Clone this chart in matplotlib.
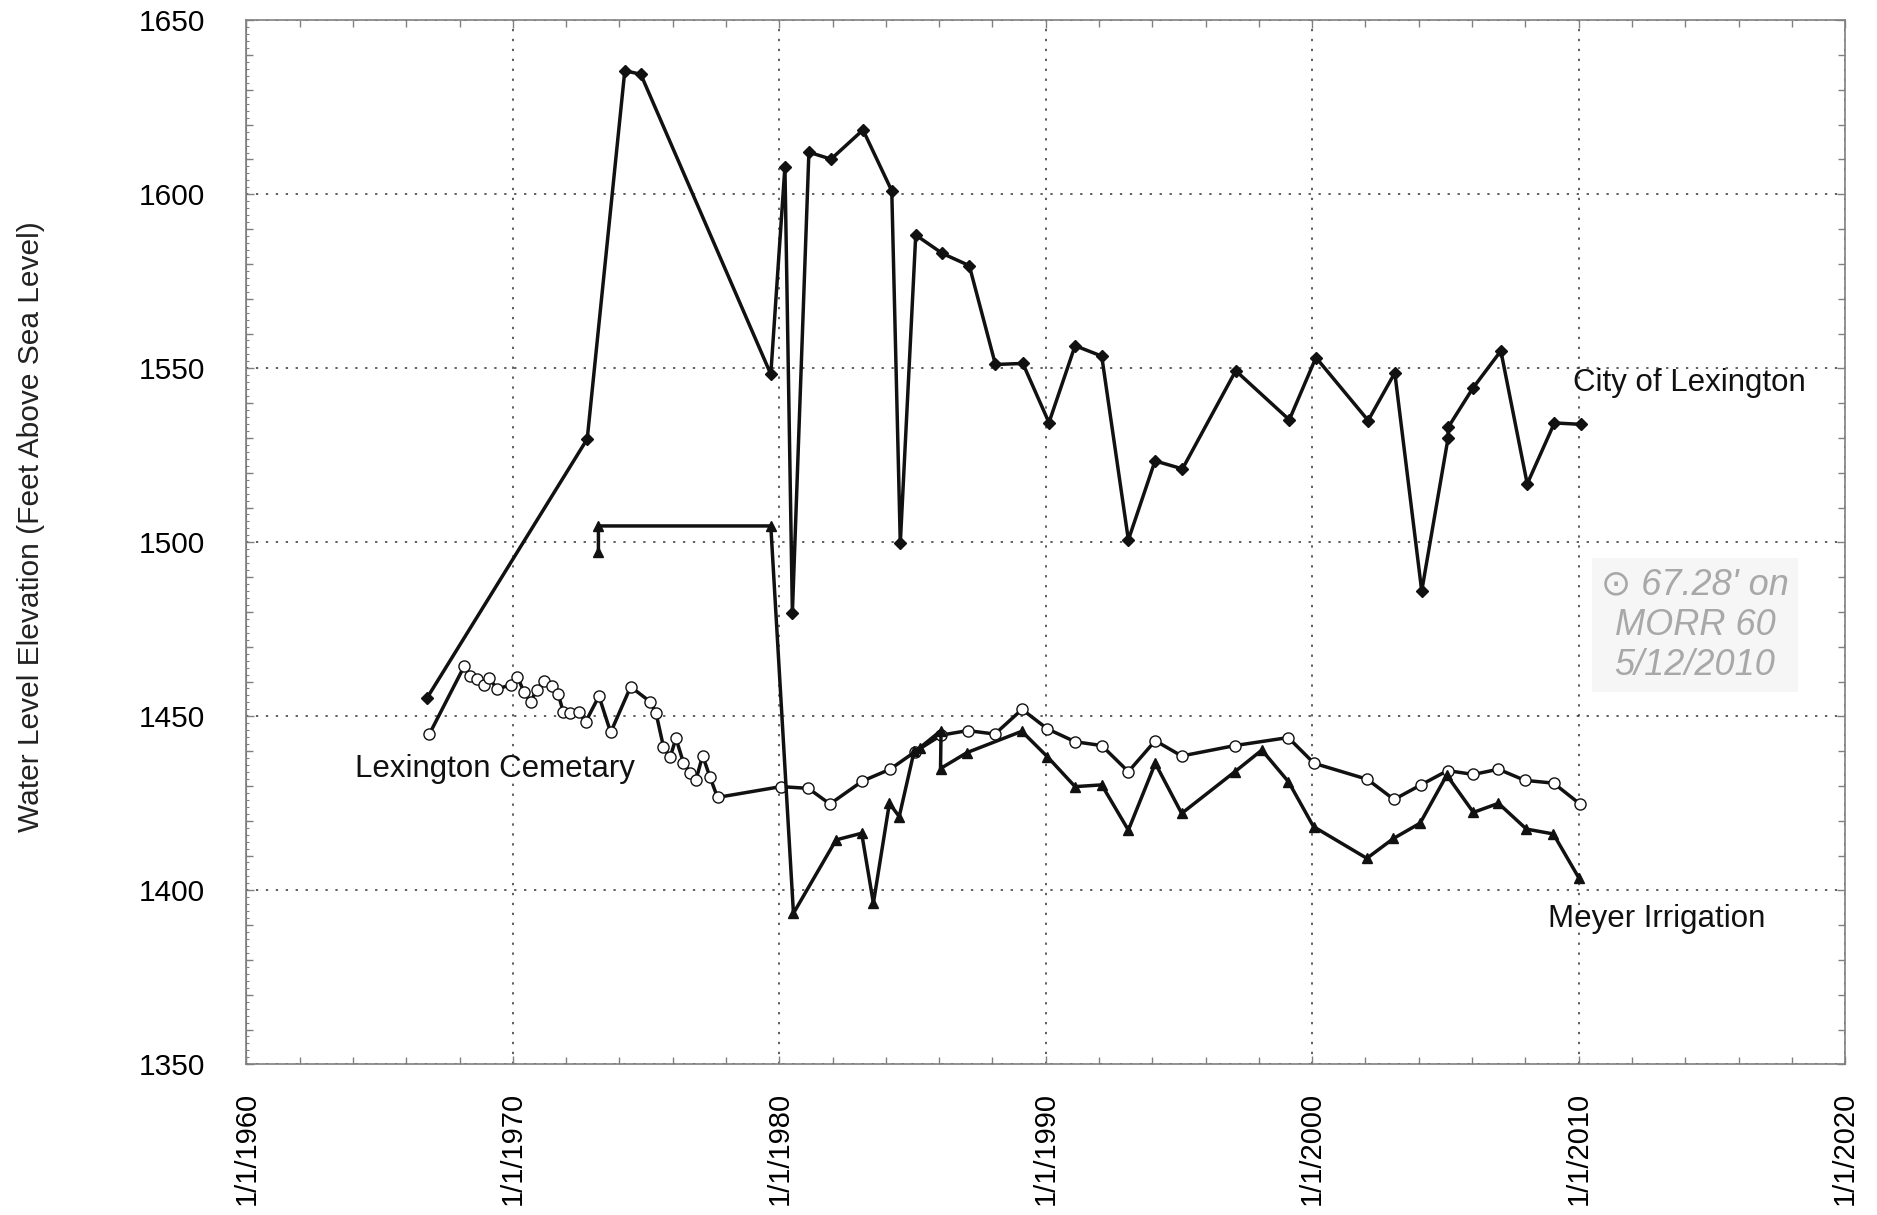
import numpy as np
import matplotlib
matplotlib.use("Agg")
import matplotlib.pyplot as plt
from matplotlib.ticker import MultipleLocator

plt.rcParams['font.family'] = ['Liberation Sans', 'DejaVu Sans']

# water level readings, decimal year vs elevation (ft above sea level)
city_yr = [1966.78, 1972.79, 1974.20, 1974.80, 1979.68, 1980.21, 1980.49, 1981.11,
           1981.94, 1983.14, 1984.22, 1984.54, 1985.12, 1986.12, 1987.13, 1988.11,
           1989.14, 1990.12, 1991.10, 1992.10, 1993.10, 1994.10, 1995.13, 1997.13,
           1999.14, 2000.14, 2002.10, 2003.10, 2004.11, 2005.10, 2005.10, 2006.03,
           2007.08, 2008.07, 2009.09, 2010.09]
city_lvl = [1455.3, 1529.7, 1635.5, 1634.5, 1548.3, 1607.9, 1479.7, 1612.1,
            1610.1, 1618.5, 1601.0, 1499.7, 1588.3, 1583.0, 1579.5, 1551.1,
            1551.4, 1534.4, 1556.5, 1553.5, 1500.7, 1523.4, 1521.1, 1549.3,
            1535.2, 1553.1, 1535.0, 1548.7, 1486.0, 1530.0, 1533.0, 1544.3,
            1555.0, 1516.8, 1534.3, 1533.9]

meyer_yr = [1973.21, 1973.21, 1979.68, 1980.53, 1982.13, 1983.09, 1983.53, 1984.13,
            1984.50, 1985.06, 1985.28, 1986.07, 1986.05, 1987.05, 1989.10, 1990.06,
            1991.10, 1992.10, 1993.10, 1994.11, 1995.10, 1997.10, 1998.11, 1999.11,
            2000.05, 2002.05, 2003.05, 2004.05, 2005.05, 2006.05, 2006.99, 2008.04,
            2009.05, 2010.02]
meyer_lvl = [1497.3, 1504.7, 1504.7, 1393.4, 1414.5, 1416.4, 1396.3, 1425.0,
             1421.2, 1440.0, 1441.0, 1445.9, 1435.0, 1439.6, 1445.7, 1438.4,
             1429.8, 1430.3, 1417.3, 1436.5, 1422.1, 1434.1, 1440.3, 1431.2,
             1418.3, 1409.2, 1414.9, 1419.3, 1433.1, 1422.4, 1425.0, 1417.6,
             1416.2, 1403.4]

cem_yr = [1966.86, 1968.18, 1968.39, 1968.66, 1968.93, 1969.11, 1969.41, 1969.92,
          1970.17, 1970.42, 1970.67, 1970.89, 1971.17, 1971.46, 1971.70, 1971.89,
          1972.14, 1972.48, 1972.73, 1973.23, 1973.67, 1974.42, 1975.15, 1975.37,
          1975.65, 1975.90, 1976.12, 1976.40, 1976.65, 1976.87, 1977.12, 1977.40,
          1977.68, 1980.06, 1981.09, 1981.90, 1983.12, 1984.16, 1985.09, 1986.08,
          1987.07, 1988.09, 1989.11, 1990.06, 1991.10, 1992.10, 1993.10, 1994.11,
          1995.10, 1997.10, 1999.10, 2000.07, 2002.07, 2003.07, 2004.08, 2005.08,
          2006.05, 2006.99, 2007.98, 2009.06, 2010.05]
cem_lvl = [1444.8, 1464.5, 1461.6, 1460.6, 1459.0, 1460.9, 1457.9, 1459.0,
           1461.4, 1456.9, 1454.2, 1457.6, 1460.2, 1458.8, 1456.4, 1451.3,
           1450.9, 1451.3, 1448.4, 1455.8, 1445.4, 1458.5, 1454.2, 1451.0,
           1441.3, 1438.2, 1443.7, 1436.7, 1433.8, 1431.7, 1438.7, 1432.5,
           1426.7, 1429.8, 1429.3, 1424.8, 1431.4, 1434.8, 1439.8, 1444.6,
           1445.9, 1444.9, 1452.0, 1446.4, 1442.7, 1441.6, 1434.1, 1443.0,
           1438.6, 1441.6, 1443.9, 1436.5, 1431.9, 1426.1, 1430.3, 1434.4,
           1433.3, 1434.8, 1431.6, 1430.8, 1424.8]

x_ticks = [1960, 1970, 1980, 1990, 2000, 2010, 2020]
x_labels = ["1/1/1960", "1/1/1970", "1/1/1980", "1/1/1990",
            "1/1/2000", "1/1/2010", "1/1/2020"]
y_ticks = [1350, 1400, 1450, 1500, 1550, 1600, 1650]

ink = '#111111'
frame = '#808080'

fig = plt.figure(figsize=(18.77, 12.15), dpi=100)
ax = fig.add_axes([0.1313, 0.124, 0.8517, 0.8593])

ax.plot(cem_yr, cem_lvl, color=ink, lw=2.5, marker='o', ms=8,
        mfc='white', mec=ink, mew=1.0, zorder=3)
ax.plot(meyer_yr, meyer_lvl, color=ink, lw=2.5, marker='^', ms=7.5,
        mfc=ink, mec=ink, zorder=4)
ax.plot(city_yr, city_lvl, color=ink, lw=2.5, marker='D', ms=6.3,
        mfc=ink, mec=ink, zorder=5)

ax.set_xlim(1960, 2020)
ax.set_ylim(1350, 1650)
ax.set_xticks(x_ticks)
ax.set_xticklabels(x_labels, rotation=90, fontsize=21)
ax.set_yticks(y_ticks)
ax.set_yticklabels([str(v) for v in y_ticks], fontsize=21.5)
ax.xaxis.set_minor_locator(MultipleLocator(2))
ax.yaxis.set_minor_locator(MultipleLocator(10))
ax.tick_params(which='both', direction='in', top=True, right=True,
               color=frame, width=1.0)
ax.tick_params(which='major', length=6)
ax.tick_params(which='minor', length=5)
ax.tick_params(axis='x', which='major', pad=20)
ax.tick_params(axis='y', which='major', pad=30)

# fine ruler ticks along the left edge
ruler = ax.secondary_yaxis('left')
ruler.set_yticks(np.arange(1350, 1651, 2))
ruler.tick_params(direction='in', length=2.5, color=frame, labelleft=False)
ruler.spines['left'].set_color(frame)

for s in ax.spines.values():
    s.set_color(frame)
    s.set_linewidth(1.2)

ax.grid(True, which='major', linestyle=(0, (1.5, 5)), color='#333333', lw=1.1)
ax.set_axisbelow(True)

ax.set_ylabel("Water Level Elevation (Feet Above Sea Level)", fontsize=21.5,
              color='#222222')
ax.yaxis.set_label_coords(-0.126, 0.515)

ax.text(2009.78, 1545.8, "City of Lexington", fontsize=22.5, color=ink,
        ha='left', va='center')
ax.text(1964.09, 1435.0, "Lexington Cemetary", fontsize=22.5, color=ink,
        ha='left', va='center')
ax.text(2008.85, 1391.7, "Meyer Irrigation", fontsize=22.5, color=ink,
        ha='left', va='center')

# pencilled note beside the City of Lexington record
ax.text(2014.37, 1476.2, "\u2299 67.28' on\nMORR 60\n5/12/2010", fontsize=26,
        color='#a8a8a8', style='italic', ha='center', va='center',
        multialignment='center', linespacing=1.2,
        family=['Liberation Sans', 'DejaVu Sans'],
        bbox=dict(boxstyle='square,pad=0.25', fc='#f6f6f6', ec='none'))

fig.savefig("out.png", dpi=100)
